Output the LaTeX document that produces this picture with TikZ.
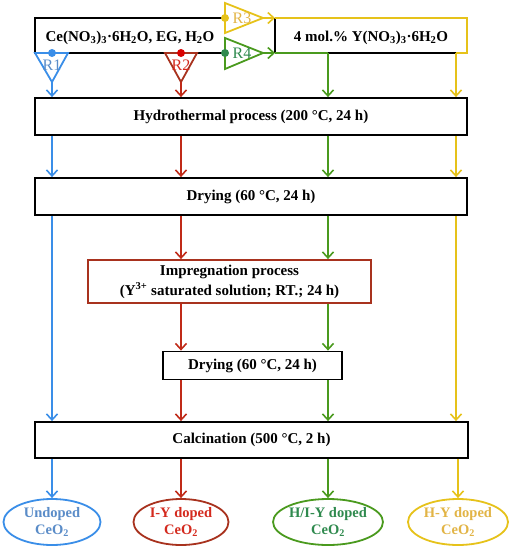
\documentclass[tikz,border=0pt]{standalone}
\usepackage{fontspec}
\setmainfont{Liberation Serif}
\usetikzlibrary{arrows.meta,shapes.geometric}
\definecolor{cblue}{HTML}{3A8EE8}
\definecolor{cblueT}{HTML}{5A8CC8}
\definecolor{cred}{HTML}{C02A18}
\definecolor{credT}{HTML}{D42A1E}
\definecolor{cbrown}{HTML}{A8321E}
\definecolor{cgreen}{HTML}{4A9A1E}
\definecolor{cgreenT}{HTML}{2F8A4E}
\definecolor{cyel}{HTML}{E6C21A}
\definecolor{cyelT}{HTML}{E2B445}
\begin{document}
\begin{tikzpicture}[x=1pt,y=-1pt,
  box/.style={draw=black, line width=1.8pt, fill=white, inner sep=0pt,
    font=\bfseries\fontsize{15}{20}\selectfont, align=center},
  ell/.style={ellipse, draw, line width=1.8pt, fill=white, inner sep=0pt,
    minimum width=97pt, minimum height=46pt, align=center,
    font=\bfseries\fontsize{14.5}{17}\selectfont},
  arr/.style={line width=1.6pt, -{Straight Barb[length=6pt,width=11pt,line width=1.6pt]}},
  lin/.style={line width=1.8pt},
  rlab/.style={font=\fontsize{16}{18}\selectfont, inner sep=0pt},
  dot/.style={circle, fill, inner sep=0pt, minimum size=8pt}]
\useasboundingbox (0,0) rectangle (513,550);
% column coordinates
\coordinate (cB) at (52,0);
\coordinate (cR) at (181,0);
\coordinate (cG) at (328,0);
\coordinate (cY) at (456,0);
% top boxes
\coordinate (ceTL) at (35,18);
\coordinate (ceBL) at (35,53);
\coordinate (ceTR) at (225,18);
\coordinate (ceBR) at (225,53);
\coordinate (yTL) at (275,18);
\coordinate (yBL) at (275,53);
\coordinate (yTR) at (467,18);
\coordinate (yBR) at (467,53);
\coordinate (yG) at (328,53);
\coordinate (yY) at (456,53);
\node[font=\bfseries\fontsize{15}{18}\selectfont] (ce) at (130,38) {Ce(NO\textsubscript{3})\textsubscript{3}·6H\textsubscript{2}O, EG, H\textsubscript{2}O};
\node[font=\bfseries\fontsize{15}{18}\selectfont] (yn) at (371,38) {4 mol.\% Y(NO\textsubscript{3})\textsubscript{3}·6H\textsubscript{2}O};
\draw[lin] (ceTR) -- (ceTL) -- (ceBL) -- (ceBR);
\draw[lin] (yTL) -- (yBL);
\draw[lin] (yG) -- (yY);
% process boxes
\node[box, minimum width=432pt, minimum height=37pt] (hyd) at (251,116.5) {Hydrothermal process (200 °C, 24 h)};
\node[box, minimum width=432pt, minimum height=37pt] (dry1) at (251,196.5) {Drying (60 °C, 24 h)};
\node[box, draw=cbrown, minimum width=283pt, minimum height=43pt] (imp) at (229.5,281.5) {Impregnation process\\(Y\textsuperscript{3+} saturated solution; RT.; 24 h)};
\node[box, minimum width=179pt, minimum height=28pt] (dry2) at (252.5,365.5) {Drying (60 °C, 24 h)};
\node[box, minimum width=433pt, minimum height=36pt] (calc) at (251.5,440) {Calcination (500 °C, 2 h)};
% ellipses
\node[ell, draw=cblue, text=cblueT] (eB) at (52,522) {Undoped\\CeO\textsubscript{2}};
\node[ell, draw=cbrown, text=credT, minimum width=95pt] (eR) at (181,522) {I-Y doped\\CeO\textsubscript{2}};
\node[ell, draw=cgreen, text=cgreenT] (eG) at (328,522) {H/I-Y doped\\CeO\textsubscript{2}};
\node[ell, draw=cyel, text=cyelT, minimum width=100pt] (eY) at (458,522) {H-Y doped\\CeO\textsubscript{2}};
% R1
\coordinate (r1a) at (35,53);
\coordinate (r1b) at (68,53);
\coordinate (r1c) at (52,82);
\draw[lin, cblue, line join=miter] (r1a) -- (r1b) -- (r1c) -- cycle;
\node[rlab, text=cblueT] (R1) at (52,65) {R1};
\node[dot, fill=cblue] (d1) at (52,53) {};
\draw[arr, cblue] (r1c) -- (hyd.north -| cB);
% R2
\coordinate (r2a) at (165,53);
\coordinate (r2b) at (197,53);
\coordinate (r2c) at (181,82);
\draw[lin, cbrown, line join=miter] (r2a) -- (r2b) -- (r2c) -- cycle;
\node[rlab, text=credT] (R2) at (181,65) {R2};
\node[dot, fill=red!85!black] (d2) at (181,53) {};
\draw[arr, cred] (r2c) -- (hyd.north -| cR);
% R3
\coordinate (r3a) at (225,3);
\coordinate (r3b) at (225,33);
\coordinate (r3c) at (263,18);
\draw[lin, cyel, line join=miter] (r3a) -- (r3b) -- (r3c) -- cycle;
\node[rlab, text=cyelT] (R3) at (242,18.5) {R3};
\node[dot, fill=cyel] (d3) at (225,18) {};
\draw[arr, cyel] (r3c) -- (yTL);
% R4
\coordinate (r4a) at (225,38);
\coordinate (r4b) at (225,69);
\coordinate (r4c) at (263,53);
\draw[lin, cgreen, line join=miter] (r4a) -- (r4b) -- (r4c) -- cycle;
\node[rlab, text=cgreenT] (R4) at (242,53.5) {R4};
\node[dot, fill=cgreenT] (d4) at (225,53) {};
\draw[arr, cgreen] (r4c) -- (yBL);
% Y box coloured edges
\draw[lin, cyel] (yTL) -- (yTR) -- (yBR) -- (yY);
\draw[arr, cyel] (yY) -- (hyd.north -| cY);
\draw[lin, cgreen] (yBL) -- (yG);
\draw[arr, cgreen] (yG) -- (hyd.north -| cG);
% hyd -> dry1
\draw[arr, cblue] (hyd.south -| cB) -- (dry1.north -| cB);
\draw[arr, cred] (hyd.south -| cR) -- (dry1.north -| cR);
\draw[arr, cgreen] (hyd.south -| cG) -- (dry1.north -| cG);
\draw[arr, cyel] (hyd.south -| cY) -- (dry1.north -| cY);
% dry1 -> imp / calc
\draw[arr, cblue] (dry1.south -| cB) -- (calc.north -| cB);
\draw[arr, cyel] (dry1.south -| cY) -- (calc.north -| cY);
\draw[arr, cred] (dry1.south -| cR) -- (imp.north -| cR);
\draw[arr, cgreen] (dry1.south -| cG) -- (imp.north -| cG);
% imp -> dry2
\draw[arr, cred] (imp.south -| cR) -- (dry2.north -| cR);
\draw[arr, cgreen] (imp.south -| cG) -- (dry2.north -| cG);
% dry2 -> calc
\draw[arr, cred] (dry2.south -| cR) -- (calc.north -| cR);
\draw[arr, cgreen] (dry2.south -| cG) -- (calc.north -| cG);
% calc -> ellipses
\draw[arr, cblue] (calc.south -| eB) -- (eB.north);
\draw[arr, cred] (calc.south -| eR) -- (eR.north);
\draw[arr, cgreen] (calc.south -| eG) -- (eG.north);
\draw[arr, cyel] (calc.south -| eY) -- (eY.north);
\end{tikzpicture}
\end{document}
